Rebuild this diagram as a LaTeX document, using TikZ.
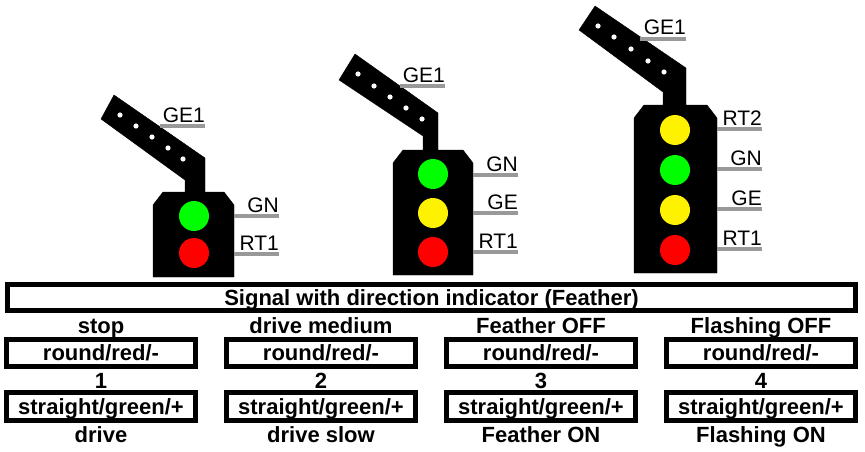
\documentclass[tikz,border=0pt]{standalone}
\usepackage{fontspec}
\setmainfont{Liberation Sans}
\begin{document}
\begin{tikzpicture}[x=1pt,y=-1pt,
  body/.style={fill=black,draw=black},
  dotw/.style={fill=white,draw=none},
  bar/.style={draw=gray!80,line width=4pt},
  lbl/.style={font=\fontsize{21}{22}\selectfont,inner sep=0pt,anchor=base east},
  tbox/.style={draw=black,line width=5pt,inner sep=0pt,text depth=0pt,font=\bfseries\fontsize{22}{23}\selectfont},
  ttxt/.style={font=\bfseries\fontsize{22}{23}\selectfont,inner sep=0pt,anchor=base}]
\useasboundingbox (0,0) rectangle (865,452);
% Signal 1
\fill[body] (114,95) -- (205,158) -- (205,192) -- (224,192) -- (234,205) -- (234,277) -- (153,277) -- (153,205) -- (163,192) -- (185,192) -- (185,180) -- (101,119) -- cycle;
\foreach \p in {(120,115),(136,126),(152,137),(168,148),(183,159)} \fill[dotw] \p circle (2.6);
\fill[green] (194,216) circle (15);
\fill[red] (194,253) circle (15);
\draw[bar] (160,126) -- (205,126); \node[lbl] (s1a) at (205,122) {GE1};
\draw[bar] (234,216) -- (279,216); \node[lbl] (s1b) at (279,212) {GN};
\draw[bar] (234,254) -- (279,254); \node[lbl] (s1c) at (279,250) {RT1};
% Signal 2
\fill[body] (355,54) -- (438,113) -- (438,150) -- (463,150) -- (473,163) -- (473,275) -- (393,275) -- (393,163) -- (403,150) -- (423,150) -- (423,136) -- (339,80) -- cycle;
\foreach \p in {(358,74),(374,86),(390,97),(406,108),(422,119)} \fill[dotw] \p circle (2.6);
\fill[green] (433,174) circle (15);
\fill[yellow] (433,213) circle (15);
\fill[red] (433,252) circle (15);
\draw[bar] (400,86) -- (445,86); \node[lbl] (s2a) at (445,82) {GE1};
\draw[bar] (473,175) -- (518,175); \node[lbl] (s2b) at (518,171) {GN};
\draw[bar] (473,213) -- (518,213); \node[lbl] (s2c) at (518,209) {GE};
\draw[bar] (473,252) -- (518,252); \node[lbl] (s2d) at (518,248) {RT1};
% Signal 3
\fill[body] (595,6) -- (686,68) -- (686,105) -- (707,105) -- (717,118) -- (717,273) -- (634,273) -- (634,118) -- (644,105) -- (663,105) -- (663,92) -- (579,30) -- cycle;
\foreach \p in {(598,26),(614,37),(631,49),(648,61),(664,72)} \fill[dotw] \p circle (2.6);
\fill[yellow] (675,130) circle (15);
\fill[green] (675,170) circle (15);
\fill[yellow] (675,210) circle (15);
\fill[red] (675,250) circle (15);
\draw[bar] (640,39) -- (686,39); \node[lbl] (s3a) at (686,35) {GE1};
\draw[bar] (717,129) -- (762,129); \node[lbl] (s3b) at (762,125) {RT2};
\draw[bar] (717,169) -- (762,169); \node[lbl] (s3c) at (762,165) {GN};
\draw[bar] (717,209) -- (762,209); \node[lbl] (s3d) at (762,205) {GE};
\draw[bar] (717,249) -- (762,249); \node[lbl] (s3e) at (762,245) {RT1};
% Table
\node[tbox,minimum width=848pt,minimum height=26pt] (title) at (431.5,297.5) {Signal with direction indicator (Feather)};
\foreach \i/\x/\top/\num/\bot in {1/101/stop/1/drive, 2/321/drive medium/2/drive slow, 3/541/Feather OFF/3/Feather ON, 4/761/Flashing OFF/4/Flashing ON}{
  \node[ttxt] (t\i) at (\x,333) {\top};
  \node[tbox,minimum width=189pt,minimum height=27pt] (r\i) at (\x,353) {round/red/-};
  \node[ttxt] (n\i) at (\x,388) {\num};
  \node[tbox,minimum width=189pt,minimum height=28pt] (g\i) at (\x,406.5) {straight/green/+};
  \node[ttxt] (b\i) at (\x,442) {\bot};
}
\end{tikzpicture}
\end{document}
